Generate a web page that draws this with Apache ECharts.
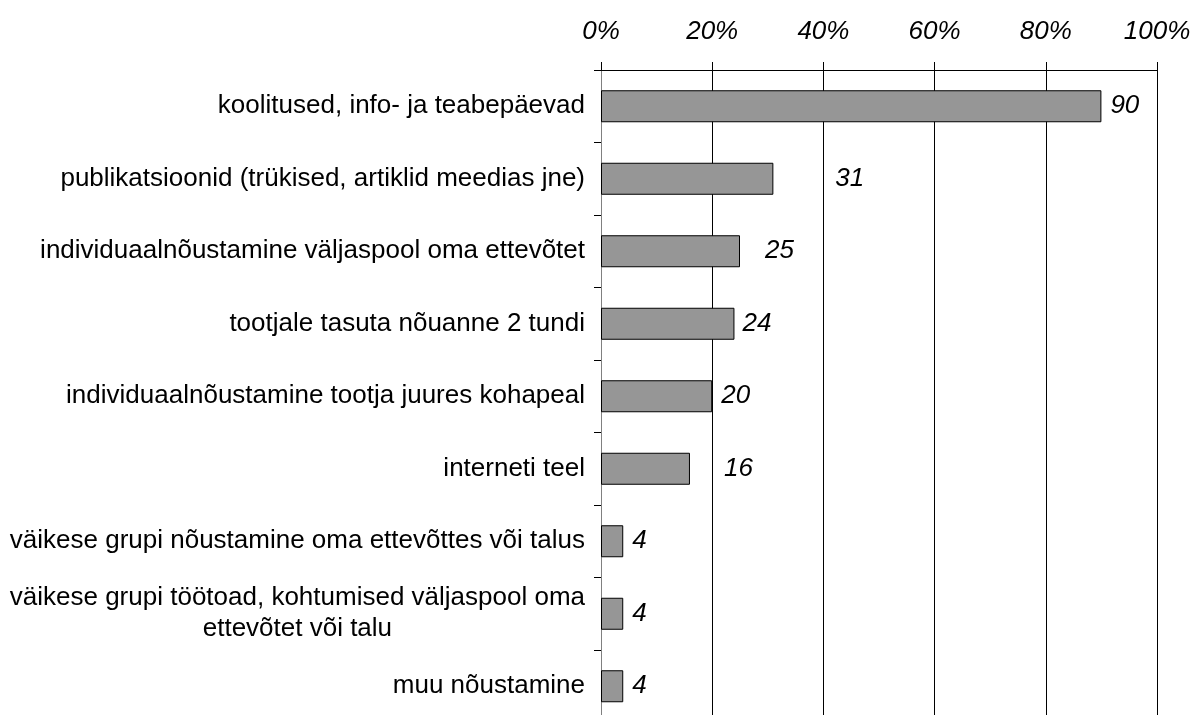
<!DOCTYPE html>
<html>
<head>
<meta charset="utf-8">
<script src="https://cdn.jsdelivr.net/npm/echarts@6/dist/echarts.min.js"></script>
<style>
  html, body { margin: 0; padding: 0; background: #fff; }
  #chart { width: 1192px; height: 715px; }
</style>
</head>
<body>
<div id="chart"></div>
<script>
const categories = [
  'koolitused, info- ja teabepäevad',
  'publikatsioonid (trükised, artiklid meedias jne)',
  'individuaalnõustamine väljaspool oma ettevõtet',
  'tootjale tasuta nõuanne 2 tundi',
  'individuaalnõustamine tootja juures kohapeal',
  'interneti teel',
  'väikese grupi nõustamine oma ettevõttes või talus',
  'väikese grupi töötoad, kohtumised väljaspool oma\nettevõtet või talu',
  'muu nõustamine'
]
const values = [90, 31, 25, 24, 20, 16, 4, 4, 4]
const xTicks = [0, 20, 40, 60, 80, 100]

// label gaps as placed in the original (px from bar end)
const labelGap = [9, 62, 25, 8, 9, 34, 9, 9, 9]

const font = "'Liberation Sans', Arial, sans-serif"
const chart = echarts.init(document.getElementById('chart'))

chart.setOption({
  animation: false,
  grid: {
    left: 601,
    top: 70,
    width: 556,
    height: 652.5,
    containLabel: false,
    outerBoundsMode: 'none'
  },
  xAxis: {
    type: 'value',
    position: 'top',
    min: xTicks[0],
    max: xTicks[xTicks.length - 1],
    interval: 20,
    axisLine: { show: true, lineStyle: { color: '#000', width: 1 } },
    axisTick: { show: true, length: 8, lineStyle: { color: '#000' } },
    splitLine: { show: true, lineStyle: { color: '#000', width: 1 } },
    axisLabel: {
      formatter: '{value}%',
      fontFamily: font,
      fontStyle: 'italic',
      fontSize: 26,
      lineHeight: 26,
      color: '#000',
      margin: 25
    }
  },
  yAxis: {
    type: 'category',
    inverse: true,
    data: categories,
    axisLine: { show: true, lineStyle: { color: '#808080', width: 1 } },
    axisTick: { show: true, length: 7, lineStyle: { color: '#000' } },
    axisLabel: {
      fontFamily: font,
      fontSize: 26,
      lineHeight: 31,
      color: '#000',
      margin: 16,
      formatter: (v) => {
        const parts = v.split('\n')
        if (parts.length === 1) return v
        // multi-line label: second line centred under the first
        return '{a|' + parts[0] + '}\n{b|' + parts[1] + '}'
      },
      rich: {
        a: { fontFamily: font, fontSize: 26, lineHeight: 31, color: '#000' },
        b: { fontFamily: font, fontSize: 26, lineHeight: 31, color: '#000', align: 'center' }
      }
    }
  },
  series: [{
    type: 'bar',
    barWidth: 32,
    data: values.map((v, i) => ({
      value: v,
      label: { distance: labelGap[i] }
    })),
    itemStyle: { color: '#969696', borderColor: '#000', borderWidth: 1 },
    label: {
      show: true,
      position: 'right',
      fontFamily: font,
      fontStyle: 'italic',
      fontSize: 26,
      color: '#000'
    }
  }]
})
</script>
</body>
</html>
